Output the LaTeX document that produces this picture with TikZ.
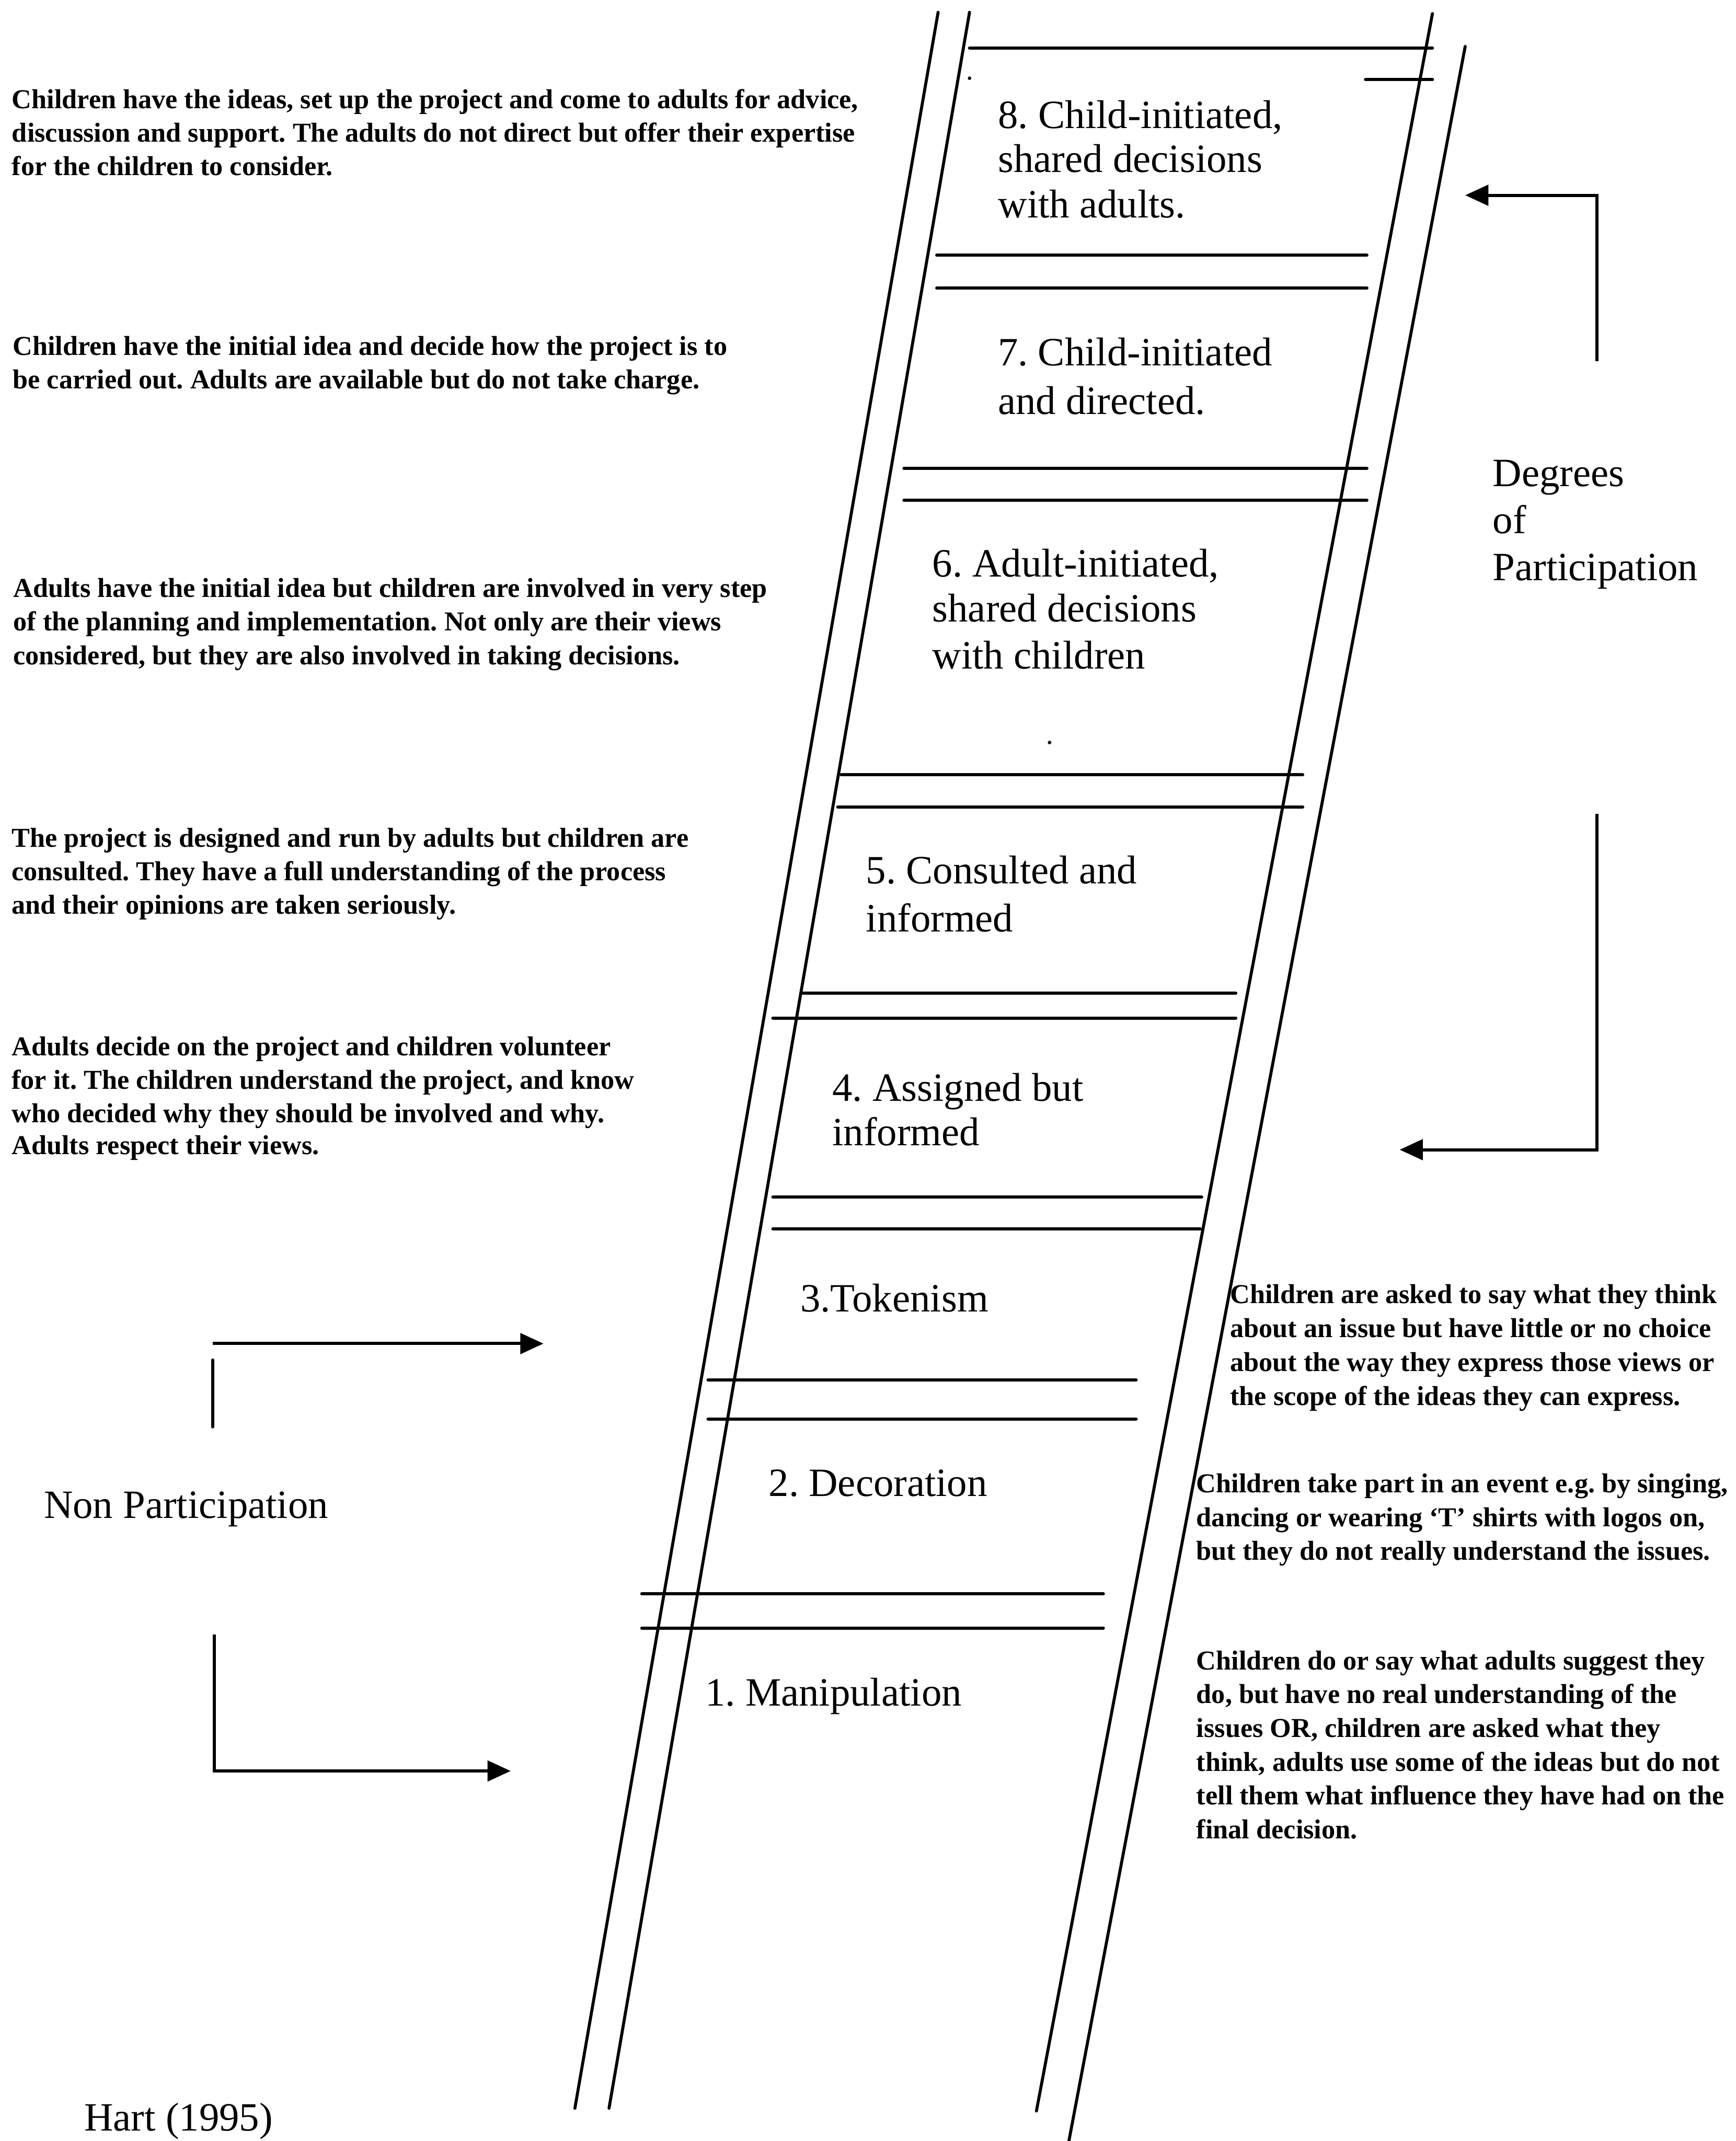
\documentclass[tikz,border=0pt]{standalone}
\usepackage{fontspec}
\setmainfont{Liberation Serif}
\usetikzlibrary{arrows.meta}
\frenchspacing
\newcommand\hdescfont{\fontsize{20pt}{24.6pt}\selectfont\bfseries\frenchspacing}
\newcommand\hlblfont{\fontsize{29.4pt}{34pt}\selectfont\frenchspacing}
\tikzset{
  rail/.style={line width=2.2pt, line cap=round},
  rung/.style={line width=2.3pt, line cap=round},
  desc/.style={anchor=base west, inner sep=0pt, font=\hdescfont},
  lbl/.style={anchor=base west, inner sep=0pt, font=\hlblfont},
  bar/.style={line width=2.3pt, line cap=round},
  arr/.style={line width=2.3pt, -{Triangle[length=17pt,width=15pt]}},
  speck/.style={fill=black, draw=none}
}
\begin{document}
\begin{tikzpicture}[x=1pt,y=-1pt]
\useasboundingbox (0,0) rectangle (1271,1568);
\clip (0,0) rectangle (1271,1568);
\fill[white] (0,0) rectangle (1271,1568);

% ladder rails
\draw[rail] (687,9) -- (421,1544);
\draw[rail] (710,9) -- (446,1544);
\draw[rail] (1049,10) -- (759,1546);
\draw[rail] (1073,34) -- (780.5,1580);

% rungs
\draw[rung] (710,35.2) -- (1049,35.2);
\draw[rung] (1000,58.3) -- (1049,58.3);
\draw[rung] (686,187) -- (1001,187);
\draw[rung] (686,211) -- (1001,211);
\draw[rung] (662,343) -- (1001,343);
\draw[rung] (662,366.5) -- (1001,366.5);
\draw[rung] (616,567.5) -- (954,567.5);
\draw[rung] (613.5,591) -- (954,591);
\draw[rung] (588,727.4) -- (905,727.4);
\draw[rung] (566,745.6) -- (905,745.6);
\draw[rung] (566,876.6) -- (880,876.6);
\draw[rung] (566,900) -- (879,900);
\draw[rung] (518.5,1010.5) -- (832,1010.5);
\draw[rung] (518.5,1039.2) -- (832,1039.2);
\draw[rung] (470,1167.3) -- (808,1167.3);
\draw[rung] (470,1192.4) -- (808,1192.4);

% specks
\fill[speck] (710,57.3) circle (1.3);
\fill[speck] (768.6,543.8) circle (1.3);

% ladder labels
\node[lbl] (l8a) at (730.8,93.8) {8. Child-initiated,};
\node[lbl] (l8b) at (730.8,126.3) {shared decisions};
\node[lbl] (l8c) at (730.8,159.5) {with adults.};
\node[lbl] (l7a) at (730.6,267.7) {7. Child-initiated};
\node[lbl] (l7b) at (730.6,303.5) {and directed.};
\node[lbl] (l6a) at (682.6,422.3) {6. Adult-initiated,};
\node[lbl] (l6b) at (682.6,455.5) {shared decisions};
\node[lbl] (l6c) at (682.6,489.9) {with children};
\node[lbl] (l5a) at (634,647) {5. Consulted and};
\node[lbl] (l5b) at (634,682.3) {informed};
\node[lbl] (l4a) at (609.4,806.2) {4. Assigned but};
\node[lbl] (l4b) at (609.4,838.8) {informed};
\node[lbl] (l3) at (586,960.5) {3.Tokenism};
\node[lbl] (l2) at (562.8,1095.8) {2. Decoration};
\node[lbl] (l1) at (516.3,1249.3) {1. Manipulation};

% side headings
\node[lbl] (dega) at (1093,356.3) {Degrees};
\node[lbl] (degb) at (1093,390.7) {of};
\node[lbl] (degc) at (1093,425) {Participation};
\node[lbl] (nonp) at (32,1112) {Non Participation};
\node[lbl] (hart) at (61.6,1560.5) {Hart (1995)};

% degrees of participation arrows
\coordinate (dpTopEnd) at (1169.6,264.6);
\coordinate (dpTopTip) at (1073,143);
\coordinate (dpBotStart) at (1169.6,596);
\coordinate (dpBotTip) at (1025,842);
\draw[arr] (dpTopEnd) |- (dpTopTip);
\draw[arr] (dpBotStart) |- (dpBotTip);

% non participation arrows
\coordinate (npTopStart) at (155.7,984);
\coordinate (npTopTip) at (398,984);
\coordinate (npBarA) at (155.7,996);
\coordinate (npBarB) at (155.7,1045);
\coordinate (npBotStart) at (157,1197);
\coordinate (npBotTip) at (374,1297);
\draw[arr] (npTopStart) -- (npTopTip);
\draw[bar] (npBarA) -- (npBarB);
\draw[arr] (npBotStart) |- (npBotTip);

% left descriptions
\node[desc] (d8a) at (8.6,79.5) {Children have the ideas, set up the project and come to adults for advice,};
\node[desc] (d8b) at (8.6,104) {discussion and support. The adults do not direct but offer their expertise};
\node[desc] (d8c) at (8.6,128.5) {for the children to consider.};

\node[desc] (d7a) at (9.2,260) {Children have the initial idea and decide how the project is to};
\node[desc] (d7b) at (9.2,284.5) {be carried out. Adults are available but do not take charge.};

\node[desc] (d6a) at (9.6,437.3) {Adults have the initial idea but children are involved in very step};
\node[desc] (d6b) at (9.6,462) {of the planning and implementation. Not only are their views};
\node[desc] (d6c) at (9.6,486.6) {considered, but they are also involved in taking decisions.};

\node[desc] (d5a) at (8.4,620.4) {The project is designed and run by adults but children are};
\node[desc] (d5b) at (8.4,644.9) {consulted. They have a full understanding of the process};
\node[desc] (d5c) at (8.4,669.3) {and their opinions are taken seriously.};

\node[desc] (d4a) at (8.4,773) {Adults decide on the project and children volunteer};
\node[desc] (d4b) at (8.4,797.6) {for it. The children understand the project, and know};
\node[desc] (d4c) at (8.4,822) {who decided why they should be involved and why.};
\node[desc] (d4d) at (8.4,845.6) {Adults respect their views.};

% right descriptions
\node[desc] (d3a) at (900.7,954.7) {Children are asked to say what they think};
\node[desc] (d3b) at (900.7,979.5) {about an issue but have little or no choice};
\node[desc] (d3c) at (900.7,1004.3) {about the way they express those views or};
\node[desc] (d3d) at (900.7,1029) {the scope of the ideas they can express.};

\node[desc] (d2a) at (876,1093.2) {Children take part in an event e.g. by singing,};
\node[desc] (d2b) at (876,1117.8) {dancing or wearing ‘T’ shirts with logos on,};
\node[desc] (d2c) at (876,1142.6) {but they do not really understand the issues.};

\node[desc] (d1a) at (876,1222.7) {Children do or say what adults suggest they};
\node[desc] (d1b) at (876,1247.5) {do, but have no real understanding of the};
\node[desc] (d1c) at (876,1272.3) {issues OR, children are asked what they};
\node[desc] (d1d) at (876,1297) {think, adults use some of the ideas but do not};
\node[desc] (d1e) at (876,1321.8) {tell them what influence they have had on the};
\node[desc] (d1f) at (876,1346.6) {final decision.};
\end{tikzpicture}
\end{document}
